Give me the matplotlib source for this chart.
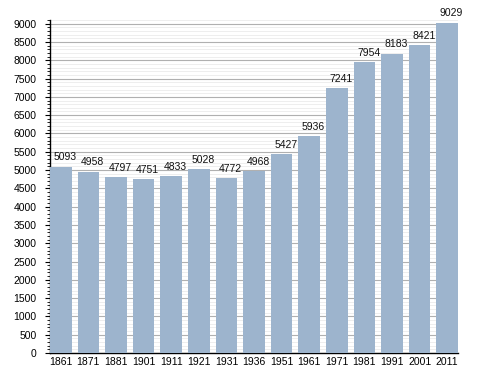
import matplotlib
matplotlib.use("Agg")
import matplotlib.pyplot as plt
from matplotlib.ticker import MultipleLocator

years = ["1861", "1871", "1881", "1901", "1911", "1921", "1931", "1936",
         "1951", "1961", "1971", "1981", "1991", "2001", "2011"]
population = [5093, 4958, 4797, 4751, 4833, 5028, 4772, 4968,
              5427, 5936, 7241, 7954, 8183, 8421, 9029]

plt.rcParams['font.family'] = ['Liberation Sans', 'DejaVu Sans']

fig = plt.figure(figsize=(4.88, 3.73), dpi=100)
ax = fig.add_axes([50 / 488, 20 / 373, 408 / 488, 333 / 373])

width = 0.78
x = list(range(len(years)))
ax.bar(x, population, width=width, color="#9db4cd", zorder=3)
for xi, v in zip(x, population):
    # labels sit a little right of the bar centre, like the original
    ax.annotate(str(v), (xi, v), xytext=(3, 3), textcoords="offset points",
                ha="center", va="bottom", fontsize=7.5, color="#111111",
                zorder=4, annotation_clip=False)

ax.set_xlim(-width / 2, len(years) - 1 + width / 2)
ax.set_ylim(0, 9100)
ax.set_xticks(x)
ax.set_xticklabels(years)
ax.yaxis.set_minor_locator(MultipleLocator(100))
ax.set_yticks(range(0, 9001, 500))

ax.grid(which="major", axis="y", color="#b0b0b0", linewidth=0.8, zorder=0)
ax.grid(which="minor", axis="y", color="#e8e8e8", linewidth=0.5, zorder=0)

for s in ["top", "right"]:
    ax.spines[s].set_visible(False)
ax.spines["left"].set_linewidth(1.0)
ax.spines["bottom"].set_linewidth(1.0)

ax.tick_params(axis="y", which="major", length=3.6, width=0.8, labelsize=7.5, pad=6)
ax.tick_params(axis="y", which="minor", length=2.2, width=0.6)
ax.tick_params(axis="x", length=0, labelsize=7.5, pad=3)

fig.savefig("out.png", dpi=100)
